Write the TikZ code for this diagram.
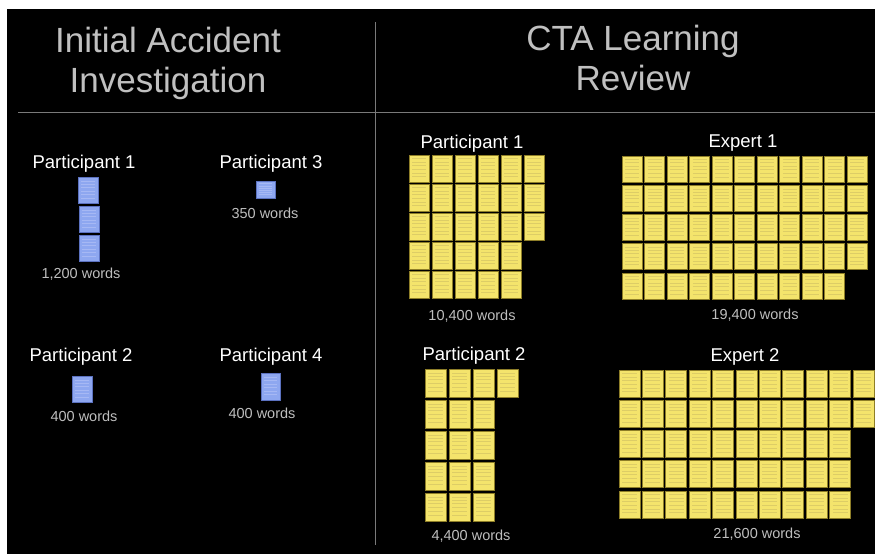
\documentclass[tikz,border=0pt]{standalone}
\usepackage{fontspec}
\setmainfont{Liberation Sans}

\definecolor{sticky}{HTML}{F4E46C}
\definecolor{stickyedge}{HTML}{8E7E28}
\definecolor{stickyline}{HTML}{DDCD66}
\definecolor{docblue}{HTML}{8EA7F0}
\definecolor{docedge}{HTML}{5C72C0}
\definecolor{docline}{HTML}{A6B8F4}
\definecolor{rulegray}{HTML}{7A7A7A}
\definecolor{titlegray}{HTML}{C0C0C0}
\definecolor{countgray}{HTML}{BEBEBE}

% one yellow page: top-left x, top-left y, width, height
\newcommand\stickynote[4]{%
  \pgfmathsetmacro\nx{#1}\pgfmathsetmacro\ny{#2}%
  \fill[sticky,draw=stickyedge,line width=0.8pt] (\nx,\ny) rectangle ++(#3,#4);
  \foreach \fr in {0.14,0.26,0.38,0.52,0.66,0.8}{%
    \pgfmathsetmacro\ly{\ny+#4*\fr}%
    \draw[stickyline,line width=0.6pt] (\nx+3,\ly) -- ++(#3-6,0);}
}
% one blue page: top-left x, top-left y, width, height
\newcommand\bluedoc[4]{%
  \pgfmathsetmacro\nx{#1}\pgfmathsetmacro\ny{#2}%
  \fill[docblue,draw=docedge,line width=0.6pt] (\nx,\ny) rectangle ++(#3,#4);
  \foreach \fr in {0.15,0.28,0.41,0.54,0.67,0.8}{%
    \pgfmathsetmacro\ly{\ny+#4*\fr}%
    \draw[docline,line width=0.5pt] (\nx+3,\ly) -- ++(#3-6,0);}
}

\tikzset{
  heading/.style={text=titlegray,font=\fontsize{35}{40}\selectfont,anchor=base},
  who/.style={text=white,font=\fontsize{18.5}{20}\selectfont,anchor=base},
  count/.style={text=countgray,font=\fontsize{14.5}{16}\selectfont,anchor=base},
  divider/.style={draw=rulegray,line width=1pt}
}

\begin{document}
\begin{tikzpicture}[x=1pt,y=-1pt]
\useasboundingbox (0,0) rectangle (875,554);
\fill[black] (7,9) rectangle (875,554);

% section rules
\coordinate (vtop) at (375,22);
\coordinate (vbot) at (375,545);
\coordinate (hl) at (18,112);
\coordinate (hr) at (875,112);
\draw[divider] (vtop) -- (vbot);
\draw[divider] (hl) -- (hr);

% headings
\node[heading] (h1a) at (168,52) {Initial Accident};
\node[heading] (h1b) at (168,92) {Investigation};
\node[heading] (h2a) at (633,50) {CTA Learning};
\node[heading] (h2b) at (633,90) {Review};

% ---- initial investigation ----
\node[who] (ip1) at (84,168) {Participant 1};
\bluedoc{78}{177}{20}{26}
\bluedoc{79}{206}{20}{26}
\bluedoc{79}{235}{20}{26}
\node[count] (ic1) at (81,278) {1,200 words};

\node[who] (ip3) at (271,168) {Participant 3};
\bluedoc{256}{181}{19}{17}
\node[count] (ic3) at (265,218) {350 words};

\node[who] (ip2) at (81,361) {Participant 2};
\bluedoc{72}{376}{20}{26}
\node[count] (ic2) at (84,421) {400 words};

\node[who] (ip4) at (271,361) {Participant 4};
\bluedoc{261}{373}{19}{27}
\node[count] (ic4) at (262,418) {400 words};

% ---- learning review ----
\node[who] (rp1) at (472,148) {Participant 1};
\foreach \r/\nc in {0/6,1/6,2/6,3/5,4/5}
  \foreach \c in {1,...,\nc}
    \stickynote{409+23*(\c-1)}{155+29*\r}{20}{27};
\node[count] (rc1) at (472,320) {10,400 words};

\node[who] (re1) at (743,147) {Expert 1};
\foreach \r/\nc in {0/11,1/11,2/11,3/11,4/10}
  \foreach \c in {1,...,\nc}
    \stickynote{622+22.5*(\c-1)}{156+29.25*\r}{20}{26};
\node[count] (rce1) at (755,319) {19,400 words};

\node[who] (rp2) at (474,360) {Participant 2};
\foreach \r/\nc in {0/4,1/3,2/3,3/3,4/3}
  \foreach \c in {1,...,\nc}
    \stickynote{425+24*(\c-1)}{369+31*\r}{21}{28};
\node[count] (rc2) at (471,540) {4,400 words};

\node[who] (re2) at (745,361) {Expert 2};
\foreach \r/\nc in {0/11,1/11,2/10,3/10,4/10}
  \foreach \c in {1,...,\nc}
    \stickynote{619+23.4*(\c-1)}{370+30.25*\r}{21}{27};
\node[count] (rce2) at (757,538) {21,600 words};
\end{tikzpicture}
\end{document}
